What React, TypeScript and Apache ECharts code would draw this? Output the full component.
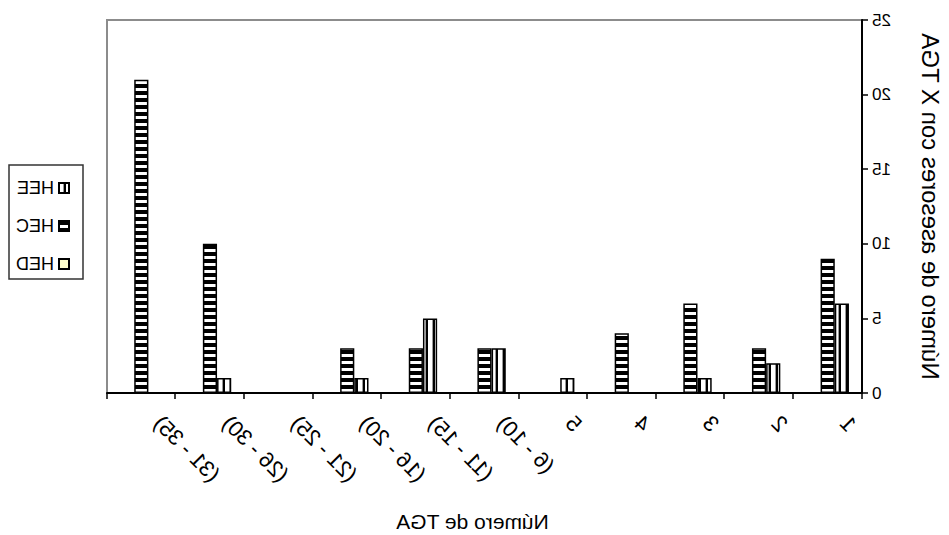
import React, { useEffect, useRef } from "react";
import * as echarts from "echarts";

// Número de TGA groups
const categories = ["1", "2", "3", "4", "5", "(6 - 10)", "(11 - 15)", "(16 - 20)", "(21 - 25)", "(26 - 30)", "(31 - 35)"];
// Número de asesores per group and type
const heeValues = [6, 2, 1, 0, 1, 3, 5, 1, 0, 1, 0];
const hecValues = [9, 3, 6, 4, 0, 3, 3, 3, 0, 10, 21];
const hedValues = [0, 0, 0, 0, 0, 0, 0, 0, 0, 0, 0];
const seriesNames = ["HEE", "HEC", "HED"];
const yMin = 0;
const yMax = 25;
const yStep = 5;

const FONT = "'Liberation Sans', Arial, sans-serif";

// Small repeating tiles used as hatch fills
function hatchTile(kind: "h" | "v") {
  const w = kind === "h" ? 8 : 7;
  const h = kind === "h" ? 7 : 8;
  const c = document.createElement("canvas");
  c.width = w;
  c.height = h;
  const ctx = c.getContext("2d")!;
  ctx.fillStyle = "#ffffff";
  ctx.fillRect(0, 0, w, h);
  ctx.fillStyle = "#000000";
  if (kind === "h") {
    ctx.fillRect(0, 0, w, 4);
  } else {
    ctx.fillRect(3, 0, 2, h);
    ctx.fillStyle = "#9a9a9a";
    ctx.fillRect(5, 0, 1, h);
  }
  return { image: c.toDataURL(), repeat: "repeat", imageWidth: w, imageHeight: h } as any;
}

export default function App() {
  const ref = useRef<HTMLDivElement>(null);

  useEffect(() => {
    if (!ref.current) return;
    const chart = echarts.init(ref.current, null, { renderer: "svg" });
    const fills = [hatchTile("v"), hatchTile("h"), "#ffffcc"];
    const values = [heeValues, hecValues, hedValues];

    chart.setOption({
      animation: false,
      backgroundColor: "#ffffff",
      textStyle: { fontFamily: FONT, color: "#000" },
      grid: {
        left: 87,
        right: 107,
        top: 20,
        bottom: 142,
        outerBoundsMode: "none",
        containLabel: false,
        show: true,
        borderColor: "#8c8c8c",
        borderWidth: 2,
        backgroundColor: "transparent",
      },
      legend: {
        orient: "vertical",
        left: 874,
        top: 173,
        icon: "rect",
        itemWidth: 10,
        itemHeight: 10,
        itemGap: 18,
        data: seriesNames,
        textStyle: { fontFamily: FONT, fontSize: 18, color: "#000", lineHeight: 20 },
      },
      graphic: [
        {
          type: "rect",
          shape: { x: 866, y: 165, width: 74, height: 114 },
          style: { fill: "none", stroke: "#333", lineWidth: 1.5 },
          silent: true,
        },
      ],
      xAxis: {
        type: "category",
        data: categories,
        axisLine: { lineStyle: { color: "#000", width: 2 } },
        axisTick: { show: true, length: 6, lineStyle: { color: "#000", width: 1.5 } },
        axisLabel: {
          rotate: 45,
          fontFamily: FONT,
          fontSize: 22,
          color: "#000",
          margin: 10,
          padding: [0, 23, 0, 0],
          interval: 0,
        },
        name: "Número de TGA",
        nameLocation: "middle",
        nameGap: 118,
        nameTextStyle: { fontFamily: FONT, fontSize: 21, color: "#000", padding: [0, 0, 0, 24] },
      },
      yAxis: {
        type: "value",
        min: yMin,
        max: yMax,
        interval: yStep,
        splitLine: { show: false },
        axisLine: { show: true, lineStyle: { color: "#000", width: 2 } },
        axisTick: { show: true, length: 6, lineStyle: { color: "#000", width: 1.5 } },
        axisLabel: { fontFamily: FONT, fontSize: 17, color: "#000", margin: 10 },
        name: "Número de asesores con X TGA",
        nameLocation: "middle",
        nameGap: 56,
        nameTextStyle: { fontFamily: FONT, fontSize: 24, color: "#000" },
      },
      series: seriesNames.map((name, i) => ({
        name,
        type: "bar",
        data: values[i],
        barGap: "0%",
        barCategoryGap: "38%",
        itemStyle: { color: fills[i], borderColor: "#000", borderWidth: 1.5 },
      })),
    });

    return () => chart.dispose();
  }, []);

  return (
    <div
      ref={ref}
      style={{
        position: "absolute",
        left: 0,
        top: 0,
        width: 949,
        height: 535,
        transform: "scaleX(-1)",
      }}
    />
  );
}
